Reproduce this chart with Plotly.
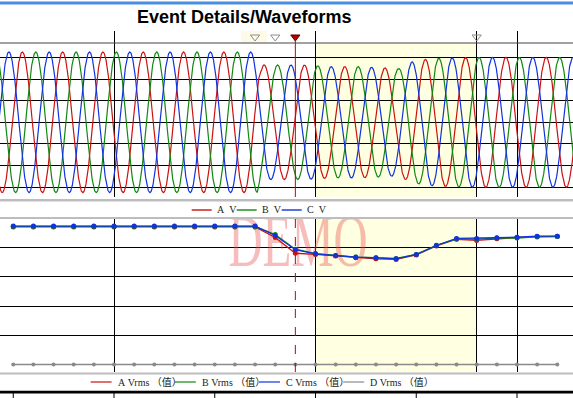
import numpy as np
import plotly.graph_objects as go

W, H = 573, 398

# ---------------- data ----------------
# RMS samples (ms, volts)
RMS_T = list(range(50, 321, 10))
RMS_A = [235.5] * 12 + [235.5, 217.5, 190.5, 188.5, 186.0, 183.0, 181.0, 180.0,
                        187.5, 203.0, 214.5, 212.5, 215.5, 217.5, 219.0, 219.5]
RMS_B = [236.5] * 12 + [236.5, 222.5, 197.5, 190.0, 186.5, 184.0, 183.0, 181.5,
                        188.5, 204.0, 215.0, 214.5, 216.5, 216.5, 218.5, 219.0]
RMS_C = [237.0] * 12 + [237.0, 221.0, 196.5, 189.5, 186.5, 183.7, 182.7, 181.0,
                        188.4, 203.8, 215.8, 215.8, 217.0, 218.0, 219.7, 219.7]
RMS_D = [0.0] * 28

# Waveform peak envelope (ms, volts peak)
WAVE_T = [43, 171, 173, 195, 208, 222, 235, 241, 248, 255, 262, 281, 330]
WAVE_PEAK = [326, 326, 266, 265, 258, 258, 252, 248, 281, 292, 297, 301, 301]
FREQ_HZ = 50
A_PEAK_T = 54.5   # time of a phase-A crest (ms)

# event markers (ms)
EVENT_OPEN = [170, 180, 280]
EVENT_TRIGGER = [190]
SHADE = [200, 280]

# labels
TITLE = "Event Details/Waveforms"
WAVE_NAMES = ["A\u00a0\u00a0V", "B\u00a0\u00a0V", "C\u00a0\u00a0V"]
RMS_NAMES = ["A\u00a0Vrms\u00a0（值）", "B\u00a0Vrms\u00a0（值）",
             "C\u00a0Vrms\u00a0（值）", "D\u00a0Vrms\u00a0（值）"]
AXIS_TICKS = [50, 100, 150, 200, 250, 300]

COL_A, COL_B, COL_C, COL_D = "#cc1111", "#118811", "#1133dd", "#8a8a8a"

# ---------------- helpers ----------------
def py(p):
    return 1 - p / H

def px(p):
    return p / W

PXMS = 2.015
X0 = 100 - 114 / PXMS
X1 = X0 + W / PXMS

# waveform
T = np.arange(43.0, 328.5, 0.1)
env = np.interp(T, WAVE_T, WAVE_PEAK)
w = 2 * np.pi * FREQ_HZ / 1000.0
period = 1000.0 / FREQ_HZ
wa = env * np.cos(w * (T - A_PEAK_T))
wb = env * np.cos(w * (T - A_PEAK_T - period / 3))
wc = env * np.cos(w * (T - A_PEAK_T - 2 * period / 3))

fig = go.Figure()
for yv, c in [(wa, COL_A), (wb, COL_B), (wc, COL_C)]:
    fig.add_trace(go.Scatter(x=T, y=yv, mode="lines", line=dict(color=c, width=1.2),
                             xaxis="x", yaxis="y", hoverinfo="skip"))

# event triangles above top panel (own strip axis)
fig.add_trace(go.Scatter(x=EVENT_OPEN, y=[0.5] * len(EVENT_OPEN), mode="markers",
                         marker=dict(symbol="triangle-down-open", size=8, color="#8c8c8c",
                                     line=dict(width=1, color="#8c8c8c")),
                         cliponaxis=False, xaxis="x", yaxis="y3"))
fig.add_trace(go.Scatter(x=EVENT_TRIGGER, y=[0.5], mode="markers",
                         marker=dict(symbol="triangle-down", size=8, color="#b80000",
                                     line=dict(width=1, color="#500000")),
                         cliponaxis=False, xaxis="x", yaxis="y3"))

# DEMO watermark (beneath lines)
fig.add_trace(go.Scatter(x=[191.3], y=[200], mode="text", text=["DEMO"],
                         textposition="middle center",
                         textfont=dict(family="Liberation Serif", size=75,
                                       color="rgba(235,80,80,0.38)"),
                         xaxis="x2", yaxis="y2", hoverinfo="skip"))

# RMS traces
fig.add_trace(go.Scatter(x=RMS_T, y=RMS_D, mode="lines+markers",
                         line=dict(color=COL_D, width=1.5),
                         marker=dict(color=COL_D, size=4), xaxis="x2", yaxis="y2", cliponaxis=False))
for yv, c in [(RMS_A, COL_A), (RMS_B, COL_B), (RMS_C, COL_C)]:
    fig.add_trace(go.Scatter(x=RMS_T, y=yv, mode="lines+markers",
                             line=dict(color=c, width=1.3),
                             marker=dict(color=c, size=5), xaxis="x2", yaxis="y2"))

top_dom = [py(197), py(43)]
bot_dom = [py(372), py(219)]
strip_dom = [py(43), py(31)]
top_rng = [-(197 - 122.3) / 0.2157, (122.3 - 43) / 0.2157]
bot_rng = [-(372 - 364.5) / 0.584, (364.5 - 219) / 0.584]

xcommon = dict(range=[X0, X1], tickvals=[100, 200, 280, 300], showgrid=True,
               gridcolor="#000000", gridwidth=1, showticklabels=False, ticks="",
               zeroline=False, showline=False, fixedrange=True)
fig.update_layout(
    width=W, height=H, autosize=False,
    margin=dict(l=0, r=0, t=0, b=0),
    paper_bgcolor="white", plot_bgcolor="white",
    showlegend=False,
    xaxis=dict(domain=[0, 1], anchor="y", **xcommon),
    yaxis=dict(domain=top_dom, range=top_rng, tickvals=[-300, -200, -100, 0, 100, 200, 300],
               showgrid=True, gridcolor="#000000", gridwidth=1, showticklabels=False,
               ticks="", zeroline=False, showline=False, anchor="x"),
    yaxis3=dict(domain=strip_dom, range=[0, 1], showgrid=False, showticklabels=False,
                ticks="", zeroline=False, showline=False, anchor="x"),
    xaxis2=dict(domain=[0, 1], anchor="y2", **xcommon),
    yaxis2=dict(domain=bot_dom, range=bot_rng, tickvals=[50, 100, 150, 200],
                showgrid=True, gridcolor="#000000", gridwidth=1, showticklabels=False,
                ticks="", zeroline=False, showline=False, anchor="x2"),
)

shapes = []
# shading
shapes.append(dict(type="rect", xref="x", yref="y domain", x0=SHADE[0], x1=SHADE[1], y0=0, y1=1,
                   fillcolor="#ffffe1", line=dict(width=0), layer="below"))
shapes.append(dict(type="rect", xref="x2", yref="y2 domain", x0=SHADE[0], x1=SHADE[1], y0=0, y1=1,
                   fillcolor="#ffffe1", line=dict(width=0), layer="below"))
# pale highlight behind first event marks
shapes.append(dict(type="rect", xref="paper", yref="paper", x0=px(241), x1=px(267),
                   y0=py(43), y1=py(31), fillcolor="#fdfbe8", line=dict(width=0), layer="below"))
# trigger lines
for tr in EVENT_TRIGGER:
    shapes.append(dict(type="line", xref="x", yref="paper", x0=tr, x1=tr, y0=py(197), y1=py(38),
                       line=dict(color="#cc0000", width=1)))
    shapes.append(dict(type="line", xref="x2", yref="y2 domain", x0=tr, x1=tr, y0=0, y1=1,
                       line=dict(color="#cc0000", width=1, dash="dash")))
# blue top bar
shapes.append(dict(type="rect", xref="paper", yref="paper", x0=0, x1=1, y0=py(4.5), y1=py(1.5),
                   fillcolor="#4a8fdf", line=dict(width=0)))
# top border
shapes.append(dict(type="line", xref="paper", yref="paper", x0=0, x1=1, y0=py(43), y1=py(43),
                   line=dict(color="#444444", width=1)))
# grey separators
for y0, y1 in [(199, 201.5), (217, 219), (372.5, 374.5)]:
    shapes.append(dict(type="rect", xref="paper", yref="paper", x0=0, x1=1, y0=py(y1), y1=py(y0),
                       fillcolor="#bdbdbd", line=dict(width=0)))
# bottom black band and ticks of next panel
shapes.append(dict(type="rect", xref="paper", yref="paper", x0=0, x1=1, y0=py(393.5), y1=py(390.7),
                   fillcolor="#000000", line=dict(width=0)))
for tv in AXIS_TICKS:
    shapes.append(dict(type="line", xref="x2", yref="paper", x0=tv, x1=tv, y0=py(398), y1=py(393),
                       line=dict(color="#000000", width=1)))

annotations = [dict(text="<b>" + TITLE + "</b>", xref="paper", yref="paper", x=px(243.5), y=py(16.5),
                    xanchor="center", yanchor="middle", showarrow=False,
                    font=dict(family="Liberation Sans", size=18, color="#000000"))]

lfont = dict(family="Liberation Serif, Noto Sans CJK SC", size=10, color="#222222")
# waveform legend
for i, (name, c) in enumerate(zip(WAVE_NAMES, [COL_A, COL_B, COL_C])):
    x0 = 191.7 + 45 * i
    shapes.append(dict(type="line", xref="paper", yref="paper", x0=px(x0), x1=px(x0 + 20),
                       y0=py(210), y1=py(210), line=dict(color=c, width=1.4)))
    annotations.append(dict(text=name, xref="paper", yref="paper", x=px(x0 + 23), y=py(209.5),
                            xanchor="left", yanchor="middle", showarrow=False, font=lfont))
# RMS legend
for i, (name, c) in enumerate(zip(RMS_NAMES, [COL_A, COL_B, COL_C, COL_D])):
    x0 = 90.6 + 84.2 * i
    shapes.append(dict(type="line", xref="paper", yref="paper", x0=px(x0), x1=px(x0 + 21),
                       y0=py(382), y1=py(382), line=dict(color=c, width=1.2)))
    annotations.append(dict(text=name, xref="paper", yref="paper", x=px(x0 + 25), y=py(382),
                            xanchor="left", yanchor="middle", showarrow=False, font=lfont))

fig.update_layout(shapes=shapes, annotations=annotations)

post = """
(function(){
  document.documentElement.style.margin = '0';
  document.body.style.margin = '0';
  document.body.style.padding = '0';
  var els = document.querySelectorAll('text');
  els.forEach(function(t){
    if (t.textContent === 'DEMO') {
      var b = t.getBBox();
      var cx = b.x + b.width / 2;
      var old = t.getAttribute('transform') || '';
      t.setAttribute('transform', old + ' translate(' + cx + ',0) scale(0.63,1) translate(' + (-cx) + ',0)');
    }
  });
})();
"""
fig.write_html("out.html", config={"displayModeBar": False, "staticPlot": True}, post_script=post)
